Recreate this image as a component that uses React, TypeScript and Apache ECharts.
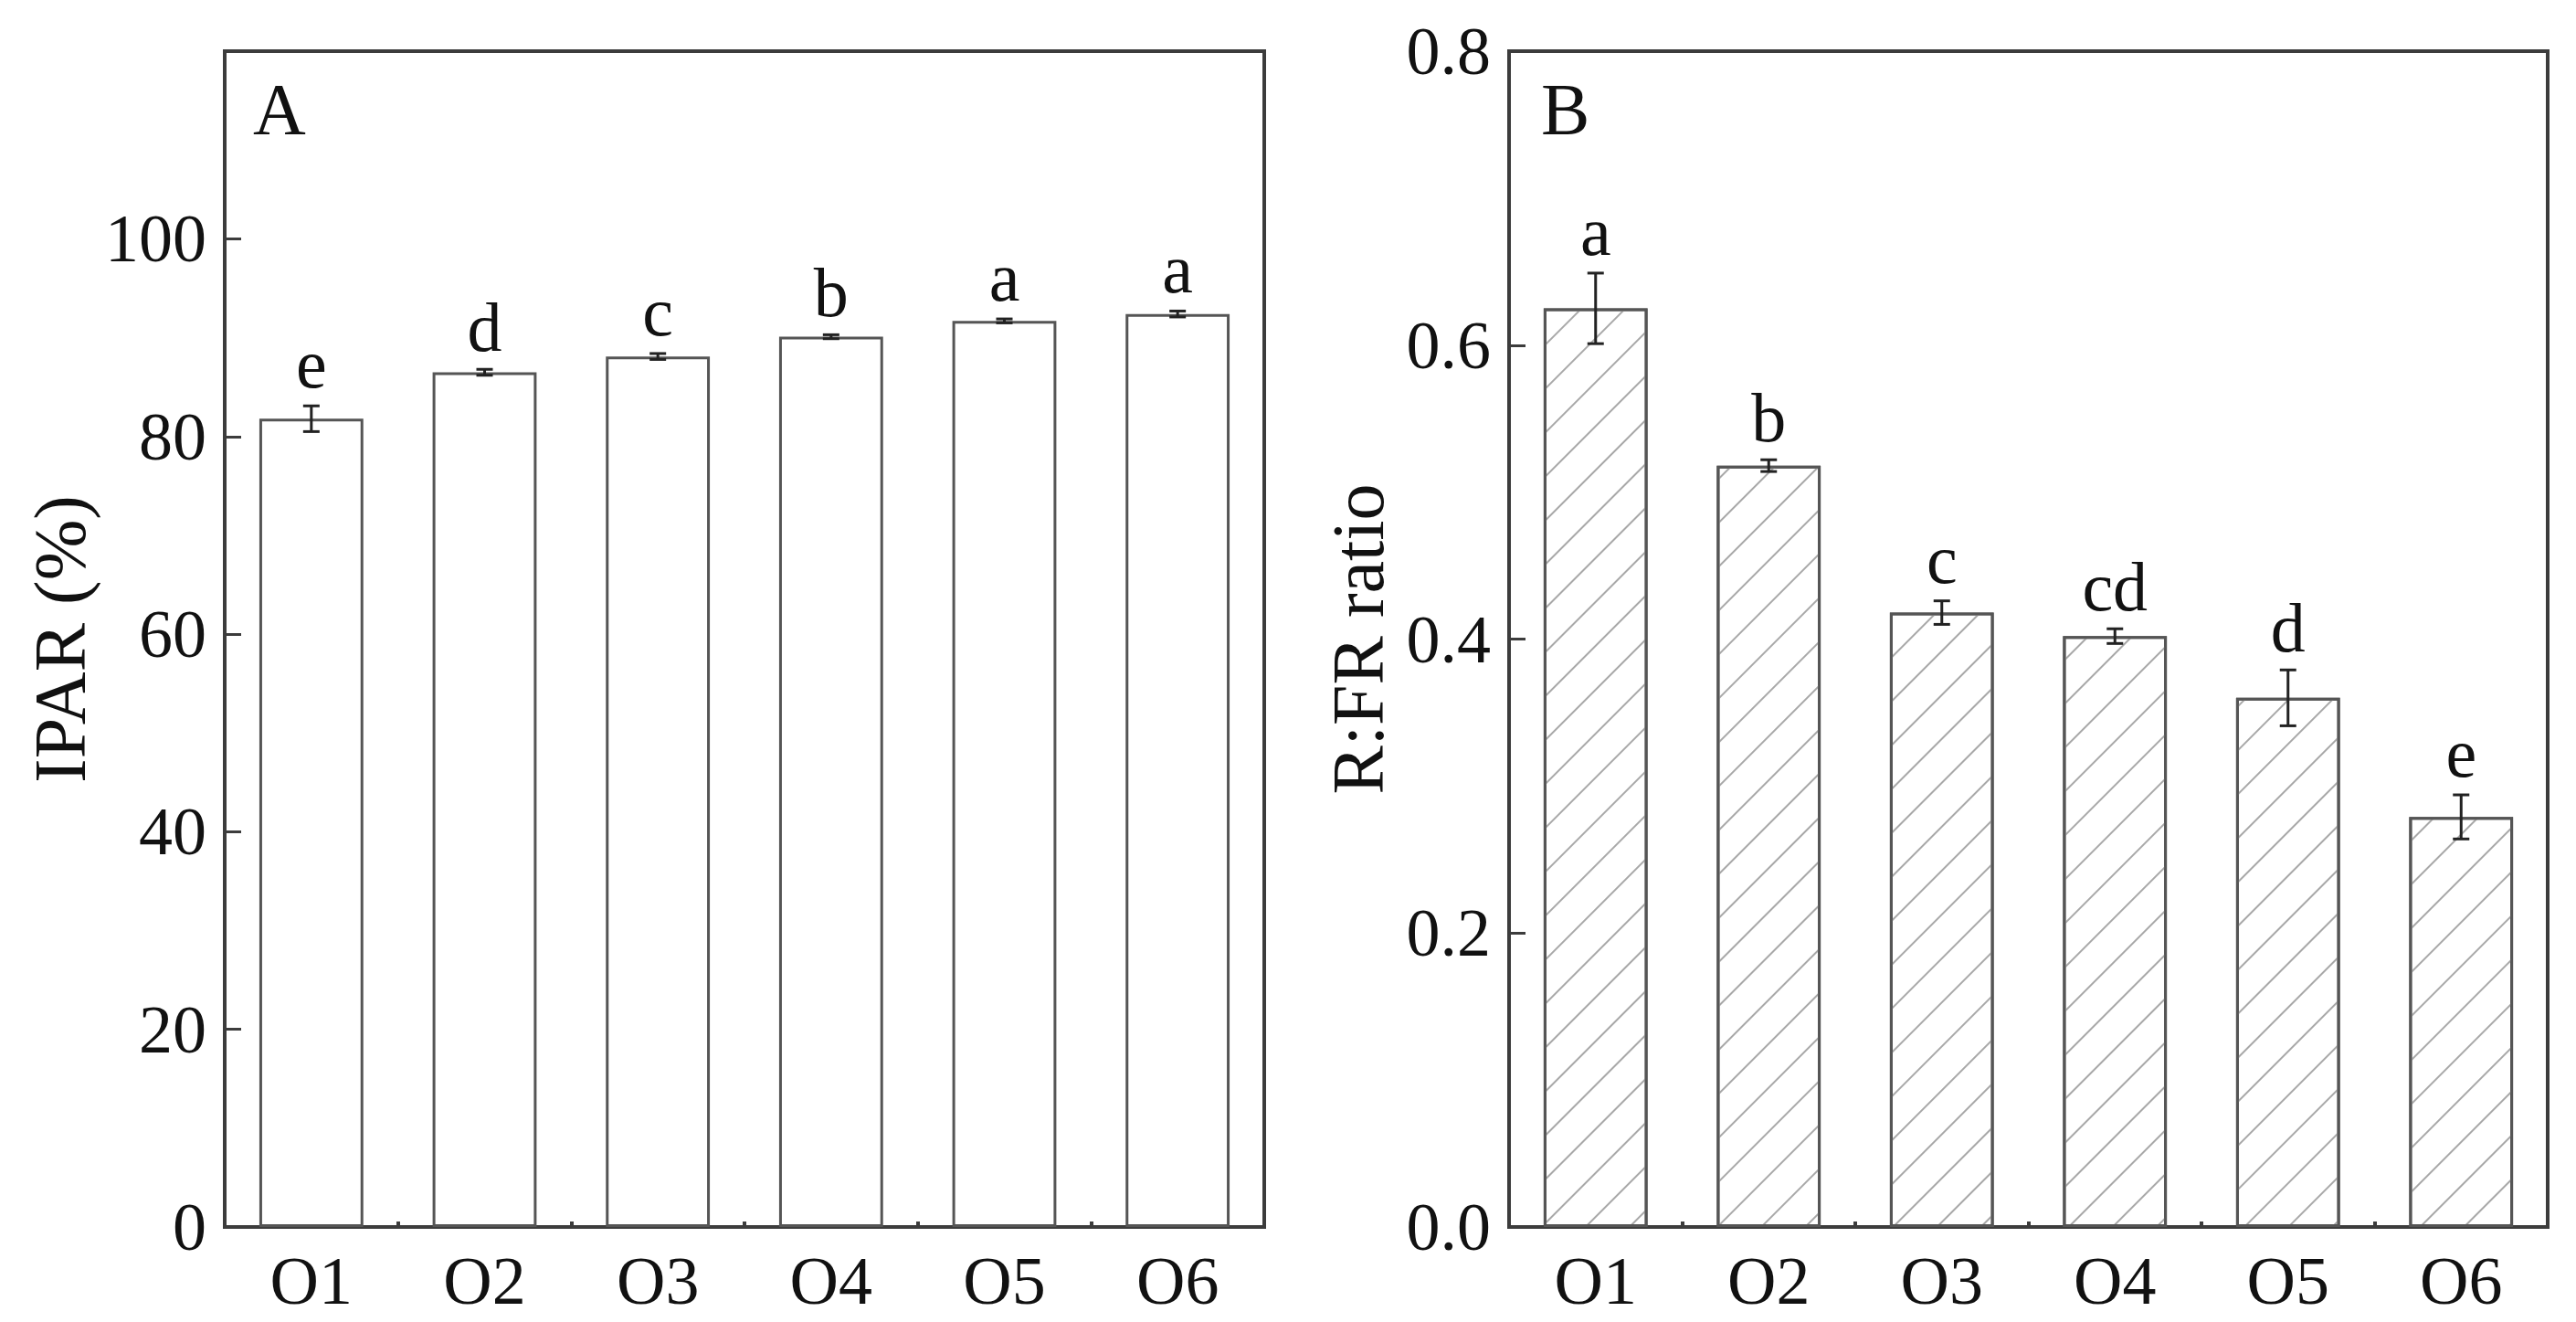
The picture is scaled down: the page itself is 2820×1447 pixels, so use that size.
import React, { useEffect, useRef } from 'react';
import * as echarts from 'echarts';

const categories = ['O1', 'O2', 'O3', 'O4', 'O5', 'O6'];
const iparValues = [81.8, 86.5, 88.1, 90.1, 91.7, 92.4];
const iparErrors = [1.3, 0.3, 0.3, 0.2, 0.2, 0.3];
const iparLetters = ['e', 'd', 'c', 'b', 'a', 'a'];
const iparTickLabels = ['0', '20', '40', '60', '80', '100'];

const rfrValues = [0.625, 0.518, 0.418, 0.402, 0.36, 0.279];
const rfrErrors = [0.024, 0.004, 0.008, 0.005, 0.019, 0.015];
const rfrLetters = ['a', 'b', 'c', 'cd', 'd', 'e'];
const rfrTickLabels = ['0.0', '0.2', '0.4', '0.6', '0.8'];

const FONT = '"Liberation Serif", "Times New Roman", Times, serif';
const AXIS = '#3c3c3c';
const TEXT = '#111';

function errorSeries(idx: number, vals: number[], errs: number[], letters: string[]) {
  return {
    type: 'custom',
    xAxisIndex: idx,
    yAxisIndex: idx,
    z: 10,
    data: vals.map((v, i) => [i, v, errs[i]]),
    renderItem: (params: any, api: any) => {
      const i = api.value(0);
      const v = api.value(1);
      const e = api.value(2);
      const top = api.coord([i, v + e]);
      const bot = api.coord([i, v - e]);
      const x = top[0];
      const hw = 9;
      const ls = { stroke: '#222', lineWidth: 3 };
      return {
        type: 'group',
        children: [
          { type: 'line', shape: { x1: x, y1: top[1], x2: x, y2: bot[1] }, style: ls },
          { type: 'line', shape: { x1: x - hw, y1: top[1], x2: x + hw, y2: top[1] }, style: ls },
          { type: 'line', shape: { x1: x - hw, y1: bot[1], x2: x + hw, y2: bot[1] }, style: ls },
          {
            type: 'text',
            x: x,
            y: top[1] - 8,
            style: {
              text: letters[params.dataIndex],
              fill: TEXT,
              fontSize: 76,
              fontFamily: FONT,
              align: 'center',
              verticalAlign: 'bottom',
            },
          },
        ],
      };
    },
  };
}

function xAxisFor(g: number) {
  return {
    type: 'category',
    gridIndex: g,
    data: categories,
    boundaryGap: true,
    axisLine: { show: true, lineStyle: { color: AXIS, width: 4 } },
    axisTick: { show: true, inside: true, length: 6, interval: 0, lineStyle: { color: AXIS, width: 4 } },
    axisLabel: { fontSize: 74, fontFamily: FONT, color: TEXT, margin: 22, interval: 0 },
    splitLine: { show: false },
  };
}

export default function App() {
  const ref = useRef<HTMLDivElement>(null);
  useEffect(() => {
    document.body.style.margin = '0';
    const chart = echarts.init(ref.current!, null, { renderer: 'svg' });
    const option: any = {
      animation: false,
      backgroundColor: '#fff',
      grid: [
        { left: 246, top: 56, width: 1138, height: 1287, show: true, borderColor: AXIS, borderWidth: 4, backgroundColor: 'transparent' },
        { left: 1652, top: 56, width: 1137, height: 1287, show: true, borderColor: AXIS, borderWidth: 4, backgroundColor: 'transparent' },
      ],
      xAxis: [xAxisFor(0), xAxisFor(1)],
      yAxis: [
        {
          type: 'value',
          gridIndex: 0,
          min: 0,
          max: 119,
          interval: 20,
          axisLine: { show: true, lineStyle: { color: AXIS, width: 4 } },
          axisTick: { show: true, inside: true, length: 18, lineStyle: { color: AXIS, width: 3 } },
          axisLabel: {
            fontSize: 74,
            fontFamily: FONT,
            color: TEXT,
            margin: 20,
            showMaxLabel: false,
            formatter: (v: number) => iparTickLabels[Math.round(v / 20)] ?? '',
          },
          splitLine: { show: false },
          name: 'IPAR (%)',
          nameLocation: 'middle',
          nameGap: 140,
          nameTextStyle: { fontSize: 80, fontFamily: FONT, color: TEXT },
        },
        {
          type: 'value',
          gridIndex: 1,
          min: 0,
          max: 0.8,
          interval: 0.2,
          axisLine: { show: true, lineStyle: { color: AXIS, width: 4 } },
          axisTick: { show: true, inside: true, length: 18, lineStyle: { color: AXIS, width: 3 } },
          axisLabel: {
            fontSize: 74,
            fontFamily: FONT,
            color: TEXT,
            margin: 20,
            formatter: (v: number) => rfrTickLabels[Math.round(v / 0.2)] ?? '',
          },
          splitLine: { show: false },
          name: 'R:FR ratio',
          nameLocation: 'middle',
          nameGap: 125,
          nameTextStyle: { fontSize: 80, fontFamily: FONT, color: TEXT },
        },
      ],
      graphic: [
        { type: 'text', left: 277, top: 80, style: { text: 'A', fontSize: 80, fontFamily: FONT, fill: TEXT } },
        { type: 'text', left: 1687, top: 80, style: { text: 'B', fontSize: 80, fontFamily: FONT, fill: TEXT } },
      ],
      series: [
        {
          type: 'bar',
          xAxisIndex: 0,
          yAxisIndex: 0,
          barWidth: '60%',
          data: iparValues,
          itemStyle: { color: '#fff', borderColor: '#555', borderWidth: 3 },
        },
        errorSeries(0, iparValues, iparErrors, iparLetters),
        {
          type: 'bar',
          xAxisIndex: 1,
          yAxisIndex: 1,
          barWidth: '60%',
          data: rfrValues,
          itemStyle: {
            color: '#fff',
            borderColor: '#555',
            borderWidth: 3,
            decal: {
              symbol: 'rect',
              symbolSize: 1,
              dashArrayX: [1, 0],
              dashArrayY: [2, 32],
              rotation: -Math.PI / 4,
              color: '#a8a8a8',
            },
          },
        },
        errorSeries(1, rfrValues, rfrErrors, rfrLetters),
      ],
    };
    chart.setOption(option);
    return () => chart.dispose();
  }, []);
  return <div ref={ref} style={{ width: 2820, height: 1447 }} />;
}
